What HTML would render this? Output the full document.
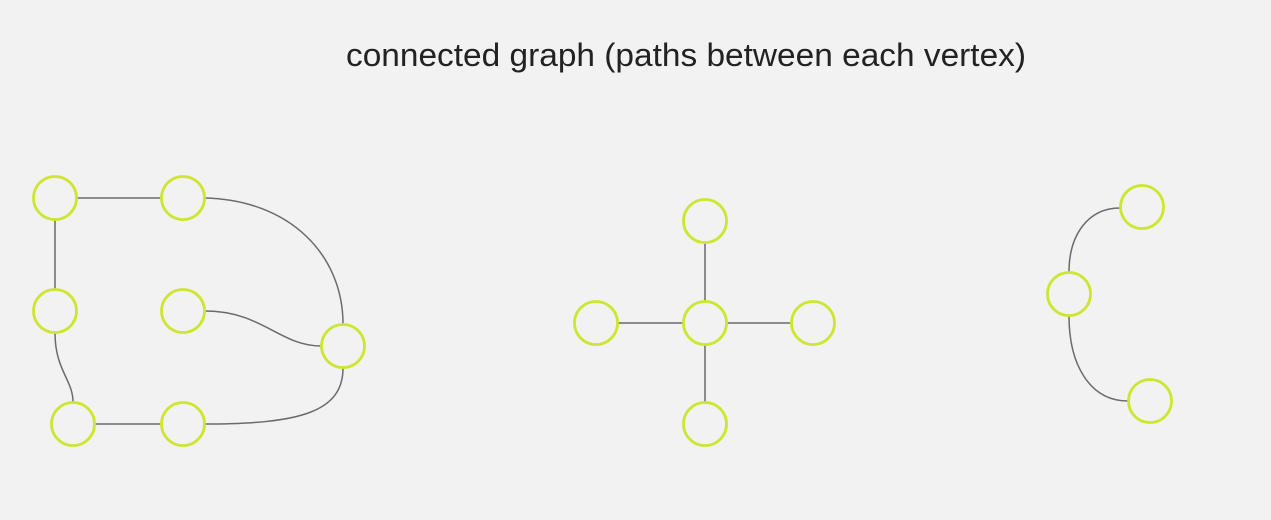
<!DOCTYPE html>
<html><head><meta charset="utf-8"><style>
html,body{margin:0;padding:0;background:#f2f2f2;width:1271px;height:520px;overflow:hidden}
</style></head><body>
<svg width="1271" height="520" xmlns="http://www.w3.org/2000/svg">
<rect width="1271" height="520" fill="#f2f2f2"/>
<text x="346" y="66" font-family="Liberation Sans, sans-serif" font-size="32" fill="#222" textLength="680" lengthAdjust="spacingAndGlyphs">connected graph (paths between each vertex)</text>
<g fill="none" stroke="#6b6b6b" stroke-width="1.5">
<path d="M77,198 L161,198"/>
<path d="M55,220 L55,289"/>
<path d="M55,333 C55,370 73,380 73,402"/>
<path d="M95,424 L161,424"/>
<path d="M205,198 C290,200 343,255 343,324"/>
<path d="M205,311 C262,311 280,346 321,346"/>
<path d="M343,368 C343,412 300,424 205,424"/>
<path d="M705,243 L705,301"/>
<path d="M705,345 L705,402"/>
<path d="M618,323 L683,323"/>
<path d="M727,323 L791,323"/>
<path d="M1069,272 C1069,235 1088,208 1120,208"/>
<path d="M1069,316 C1069,365 1090,401 1128,401"/>
</g>
<g fill="none" stroke="#cde632" stroke-width="2.8">
<circle cx="55" cy="198" r="21.5"/>
<circle cx="183" cy="198" r="21.5"/>
<circle cx="55" cy="311" r="21.5"/>
<circle cx="183" cy="311" r="21.5"/>
<circle cx="343" cy="346" r="21.5"/>
<circle cx="73" cy="424" r="21.5"/>
<circle cx="183" cy="424" r="21.5"/>
<circle cx="705" cy="221" r="21.5"/>
<circle cx="596" cy="323" r="21.5"/>
<circle cx="705" cy="323" r="21.5"/>
<circle cx="813" cy="323" r="21.5"/>
<circle cx="705" cy="424" r="21.5"/>
<circle cx="1142" cy="207" r="21.5"/>
<circle cx="1069" cy="294" r="21.5"/>
<circle cx="1150" cy="401" r="21.5"/>
</g>
</svg>
</body></html>
